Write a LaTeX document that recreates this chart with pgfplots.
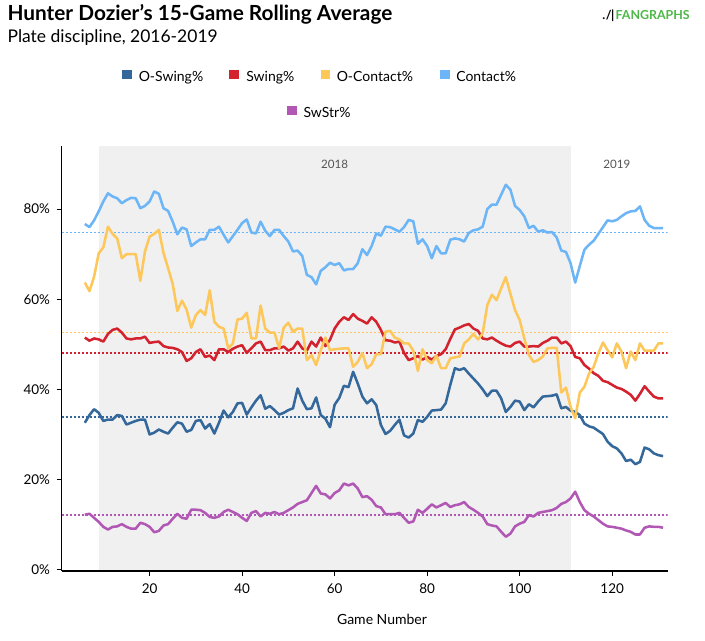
\documentclass[border=0pt]{standalone}
\usepackage{fontspec}
\setmainfont{Lato}
\usepackage{pgfplots}
\usepackage{pgfplotstable}
\pgfplotsset{compat=1.18}
\definecolor{cOS}{HTML}{34679A}
\definecolor{cS}{HTML}{D3222E}
\definecolor{cOC}{HTML}{FDC75A}
\definecolor{cC}{HTML}{6CB5F7}
\definecolor{cSS}{HTML}{B158B5}
\definecolor{band}{HTML}{F0F0F0}
\definecolor{yeartxt}{HTML}{555555}
\definecolor{fggreen}{HTML}{4DB848}

\pgfplotstableread{
g OS S OC C SS
6 32.6 51.5 63.7 76.7 12.2
7 34.3 50.8 61.8 76.0 12.4
8 35.6 51.3 65.0 77.5 11.5
9 34.8 51.1 70.2 79.5 10.6
10 33.0 50.6 71.5 81.7 9.5
11 33.3 52.3 76.1 83.5 8.9
12 33.3 53.2 74.5 82.8 9.5
13 34.3 53.5 73.5 82.4 9.6
14 34.1 52.6 69.1 81.3 10.1
15 32.2 51.3 70.0 82.0 9.5
16 32.6 51.1 70.0 82.5 9.1
17 33.0 51.3 70.0 82.4 9.1
18 33.3 51.3 64.1 80.2 10.4
19 33.3 51.7 70.6 80.7 10.1
20 30.0 50.3 73.9 81.7 9.5
21 30.4 50.5 74.5 83.9 8.3
22 31.1 50.6 75.4 83.4 8.6
23 30.6 49.6 70.3 80.2 9.8
24 30.2 49.3 66.9 79.6 10.1
25 31.5 49.2 63.4 77.2 11.3
26 32.7 48.9 57.4 74.4 12.4
27 32.4 48.3 59.7 75.9 11.5
28 30.6 46.3 57.7 75.5 11.3
29 31.0 46.9 53.7 71.8 13.3
30 33.0 48.3 56.5 72.6 13.3
31 33.2 48.9 57.6 73.3 13.2
32 31.3 47.2 56.5 73.3 12.6
33 32.3 47.5 62.0 75.4 11.7
34 30.2 46.5 55.0 75.4 11.5
35 32.6 48.9 53.9 76.1 11.8
36 35.3 48.9 53.5 74.3 12.8
37 33.8 48.3 49.1 72.6 13.3
38 35.0 49.0 50.2 74.0 12.8
39 36.9 49.5 55.5 75.4 12.3
40 37.0 49.8 55.7 76.9 11.5
41 34.4 48.1 57.0 77.7 10.8
42 36.0 49.1 51.3 74.8 12.6
43 37.5 50.2 51.3 74.6 13.0
44 38.7 50.6 58.6 77.2 11.8
45 35.7 48.7 53.5 75.2 12.6
46 36.3 48.7 52.6 74.0 12.4
47 35.4 49.1 52.6 75.4 12.8
48 34.4 49.1 49.1 75.4 12.3
49 34.8 49.5 53.7 74.0 12.6
50 35.4 48.6 54.8 72.8 13.2
51 35.8 49.1 52.8 70.6 13.8
52 40.2 50.6 53.5 70.8 14.6
53 37.5 49.1 53.5 69.6 15.0
54 35.6 48.6 46.5 65.4 15.4
55 35.8 50.6 47.6 64.9 17.0
56 38.2 49.5 45.4 63.3 18.6
57 34.3 51.5 48.7 66.3 16.9
58 33.5 49.6 51.5 67.1 16.7
59 31.6 51.0 48.7 68.1 15.8
60 36.6 53.5 48.9 67.6 17.0
61 38.1 55.0 49.0 68.0 17.6
62 40.8 56.0 49.1 66.4 19.1
63 40.5 55.4 49.1 66.7 18.7
64 43.9 56.7 45.0 66.7 19.1
65 41.3 55.7 46.1 68.0 18.0
66 38.4 55.2 48.1 71.1 16.1
67 36.9 54.6 44.7 69.8 16.3
68 37.8 56.0 45.6 71.8 15.5
69 36.5 55.0 47.8 74.6 14.1
70 32.1 53.2 47.8 74.1 13.8
71 30.1 50.9 52.8 76.1 12.3
72 30.8 50.8 53.0 76.0 12.3
73 32.1 50.4 51.5 75.5 12.3
74 33.3 50.6 51.1 75.0 12.6
75 29.8 48.1 50.2 76.0 11.5
76 29.3 46.5 50.2 77.6 10.4
77 30.2 46.9 48.6 77.3 10.7
78 33.2 47.4 44.1 72.3 13.3
79 32.8 46.6 48.9 73.3 12.6
80 33.9 47.2 46.5 71.8 13.5
81 35.3 46.6 45.8 69.1 14.5
82 35.4 47.4 47.5 71.8 13.8
83 35.5 47.8 44.7 70.2 14.3
84 36.9 48.9 44.7 70.2 14.8
85 41.0 51.2 46.9 73.2 13.9
86 44.7 53.3 47.1 73.5 14.3
87 44.3 53.7 47.3 73.3 14.5
88 44.7 54.2 50.2 72.8 15.0
89 43.5 54.5 51.1 74.7 13.9
90 42.4 53.5 52.3 75.3 13.3
91 41.3 53.0 51.1 75.5 12.6
92 40.0 51.3 52.4 76.1 11.8
93 38.5 51.1 58.7 80.0 10.1
94 39.7 51.5 61.0 81.0 9.8
95 39.7 50.8 59.8 81.0 9.6
96 38.0 50.2 62.4 83.2 8.4
97 35.0 49.7 64.9 85.4 7.3
98 36.1 49.5 61.2 84.3 8.0
99 37.5 50.3 57.6 80.7 9.6
100 37.3 50.6 55.4 79.8 10.2
101 35.4 49.5 51.3 78.4 10.6
102 36.7 49.5 47.6 75.8 12.1
103 36.0 49.6 46.1 76.3 11.8
104 37.3 49.5 46.5 75.0 12.6
105 38.4 50.3 47.3 75.3 12.8
106 38.5 50.8 49.1 74.8 13.0
107 38.6 51.5 49.2 74.9 13.2
108 38.9 51.5 49.2 73.7 13.7
109 35.8 50.2 39.3 70.8 14.6
110 36.1 50.6 40.4 70.5 15.0
111 35.3 49.6 36.1 68.0 15.8
112 35.0 47.2 33.6 63.7 17.3
113 34.3 46.9 39.3 67.4 15.0
114 32.4 45.4 40.6 71.0 13.2
115 31.8 44.6 43.5 72.1 12.4
116 31.5 43.6 45.0 73.0 11.8
117 30.8 43.0 48.0 74.5 11.0
118 30.1 41.9 50.4 76.0 10.2
119 28.4 41.6 48.7 77.5 9.6
120 27.4 41.0 47.1 77.3 9.5
121 26.9 40.4 50.2 77.6 9.3
122 25.8 40.1 48.4 78.4 9.1
123 24.1 39.5 44.7 79.1 8.7
124 24.4 38.8 48.4 79.5 8.4
125 23.4 37.5 46.5 79.6 7.8
126 23.9 39.0 50.2 80.6 7.8
127 27.1 40.7 48.6 77.6 9.3
128 26.7 39.5 48.6 76.3 9.6
129 25.8 38.4 48.6 75.8 9.5
130 25.4 38.0 50.2 75.8 9.5
131 25.2 38.0 50.2 75.8 9.3
}\data

\begin{document}
\begin{tikzpicture}[x=0.75pt,y=0.75pt]
\path[use as bounding box, fill=white] (0,0) rectangle (705,640);
% titles
\node[anchor=base west, inner sep=0, font=\fontsize{15.6}{18}\selectfont\bfseries] at (7.3,619.3) {Hunter Dozier\char39 s 15-Game Rolling Average};
\node[anchor=base west, inner sep=0, font=\fontsize{13.1}{15}\selectfont] at (7.3,597.3) {Plate discipline, 2016-2019};
% logo
\node[anchor=base east, inner sep=0, font=\fontsize{9.3}{10}\selectfont\bfseries] at (690,620.7) {{\color{black}.\kern0.5pt/\kern-0.5pt|}\kern1pt\textcolor{fggreen}{FANGRAPHS}};
% legend
\node[fill=cOS, minimum size=7.3pt, inner sep=0] at (127,565.5) {};
\node[fill=cS, minimum size=7.3pt, inner sep=0] at (233.8,565.5) {};
\node[fill=cOC, minimum size=7.3pt, inner sep=0] at (325.4,565.5) {};
\node[fill=cC, minimum size=7.3pt, inner sep=0] at (444.7,565.5) {};
\node[fill=cSS, minimum size=7.3pt, inner sep=0] at (291.7,529.5) {};
\begin{scope}[every node/.style={anchor=base west, inner sep=0, font=\fontsize{10.5}{12}\selectfont}]
\node at (138.5,558.3) {O-Swing\%};
\node at (246,558.3) {Swing\%};
\node at (336.5,558.3) {O-Contact\%};
\node at (456,558.3) {Contact\%};
\node at (303.3,522.7) {SwStr\%};
\end{scope}
\node[font=\fontsize{10.5}{12}\selectfont, inner sep=0] at (382,21) {Game Number};
\begin{axis}[
  at={(46.275pt,51.75pt)}, anchor=south west, scale only axis,
  width=454.5pt, height=318.75pt,
  xmin=1, xmax=132, ymin=-0.3, ymax=94,
  axis x line*=bottom, axis y line*=left,
  axis line style={black, line width=1pt},
  axis on top,
  tick align=outside,
  major tick length=3.75pt,
  tick style={black, line width=0.8pt},
  xtick={20,40,60,80,100,120},
  ytick={0,20,40,60,80},
  yticklabels={0\%,20\%,40\%,60\%,80\%},
  /pgf/number format/assume math mode=true,
  ticklabel style={font=\fontsize{10.1}{12}\selectfont},
  xticklabel style={yshift=-2pt},
  yticklabel style={xshift=-1.5pt},
]
\fill[band] (axis cs:9,-0.3) rectangle (axis cs:111,94);
\node[font=\fontsize{8.7}{10}\selectfont, text=yeartxt] at (axis cs:60,90) {2018};
\node[font=\fontsize{8.7}{10}\selectfont, text=yeartxt] at (axis cs:121,90) {2019};
% averages
\addplot[cOS, line width=1.25pt, dash pattern=on 1.4pt off 1.6pt] coordinates {(1,33.8) (132,33.8)};
\addplot[cS, line width=1.25pt, dash pattern=on 1.4pt off 1.6pt] coordinates {(1,48.1) (132,48.1)};
\addplot[cOC, line width=1.25pt, dash pattern=on 1.4pt off 1.6pt] coordinates {(1,52.6) (132,52.6)};
\addplot[cC, line width=1.25pt, dash pattern=on 1.4pt off 1.6pt] coordinates {(1,74.8) (132,74.8)};
\addplot[cSS, line width=1.25pt, dash pattern=on 1.4pt off 1.6pt] coordinates {(1,12.2) (132,12.2)};
% series
\addplot[cOS, line width=1.9pt, line join=round] table[x=g, y=OS] {\data};
\addplot[cS, line width=1.9pt, line join=round] table[x=g, y=S] {\data};
\addplot[cOC, line width=1.9pt, line join=round] table[x=g, y=OC] {\data};
\addplot[cC, line width=1.9pt, line join=round] table[x=g, y=C] {\data};
\addplot[cSS, line width=1.9pt, line join=round] table[x=g, y=SS] {\data};
\end{axis}
\end{tikzpicture}
\end{document}
